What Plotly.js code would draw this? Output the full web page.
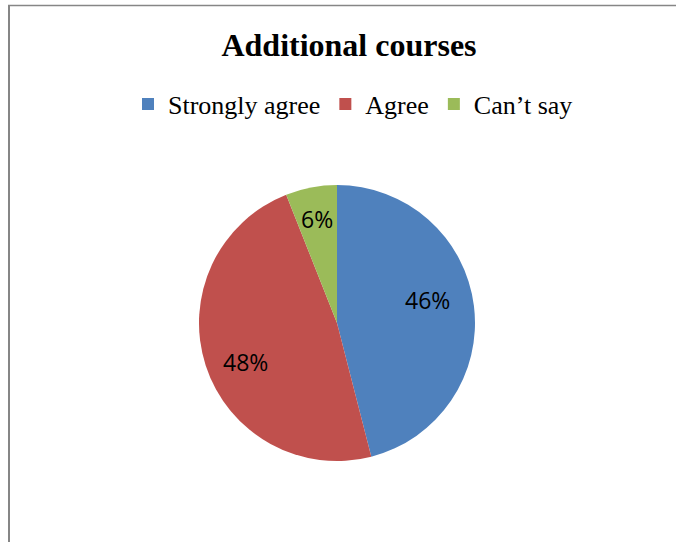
<!DOCTYPE html>
<html>
<head>
<meta charset="utf-8">
<script src="https://cdn.plot.ly/plotly-3.0.1.min.js"></script>
<style>html,body{margin:0;padding:0;background:#fff;}#chart{width:676px;height:542px;}</style>
</head>
<body>
<div id="chart"></div>
<script>
var categories = ["Strongly agree", "Agree", "Can\u2019t say"];
var values = [46, 48, 6];
var colors = ["#4F81BD", "#C0504D", "#9BBB59"];
var chartTitle = "Additional courses";

// label placement style (fraction of radius, angle nudge in degrees)
var labelRadius = [0.68, 0.72, 0.77];
var labelAngleNudge = [-7, -5, 0];

var W = 676, H = 542;
function px(x) { return x / W; }
function py(y) { return 1 - y / H; }

var cx = 337, cy = 323, R = 138;

var trace = {
  type: "pie",
  labels: categories,
  values: values,
  sort: false,
  direction: "clockwise",
  rotation: 0,
  marker: { colors: colors, line: { width: 0 } },
  textinfo: "none",
  hoverinfo: "label+percent",
  domain: { x: [px(cx - R), px(cx + R)], y: [py(cy + R), py(cy - R)] }
};

var total = values.reduce(function (a, b) { return a + b; }, 0);
var annotations = [];
var cum = 0;
values.forEach(function (v, i) {
  var mid = (cum + v / 2) / total * 360 + labelAngleNudge[i];
  cum += v;
  var a = mid * Math.PI / 180;
  var r = R * labelRadius[i];
  var lx = cx + r * Math.sin(a);
  var ly = cy - r * Math.cos(a);
  annotations.push({
    xref: "paper", yref: "paper",
    x: px(lx), y: py(ly),
    xanchor: "center", yanchor: "middle",
    showarrow: false,
    text: Math.round(v / total * 100) + "%",
    font: { family: "Open Sans, Liberation Sans, sans-serif", size: 23, color: "#000000" }
  });
});

var layout = {
  width: W, height: H,
  margin: { l: 0, r: 0, t: 0, b: 0 },
  paper_bgcolor: "#ffffff",
  plot_bgcolor: "#ffffff",
  title: {
    text: "<b>" + chartTitle + "</b>",
    font: { family: "Liberation Serif, Times New Roman, serif", size: 32, color: "#000000" },
    x: px(349), xanchor: "center",
    y: py(45), yanchor: "middle"
  },
  showlegend: true,
  legend: {
    orientation: "h",
    x: px(353), xanchor: "center",
    y: py(104), yanchor: "middle",
    font: { family: "Liberation Serif, Times New Roman, serif", size: 26, color: "#000000" },
    itemwidth: 30,
    traceorder: "normal"
  },
  annotations: annotations,
  shapes: [
    { type: "line", xref: "paper", yref: "paper", x0: px(8), x1: px(676), y0: py(5.5), y1: py(5.5),
      line: { color: "#868686", width: 1.5 } },
    { type: "line", xref: "paper", yref: "paper", x0: px(9), x1: px(9), y0: py(5), y1: py(542),
      line: { color: "#868686", width: 2 } }
  ]
};

Plotly.newPlot("chart", [trace], layout, { displayModeBar: false, staticPlot: true });
</script>
</body>
</html>
